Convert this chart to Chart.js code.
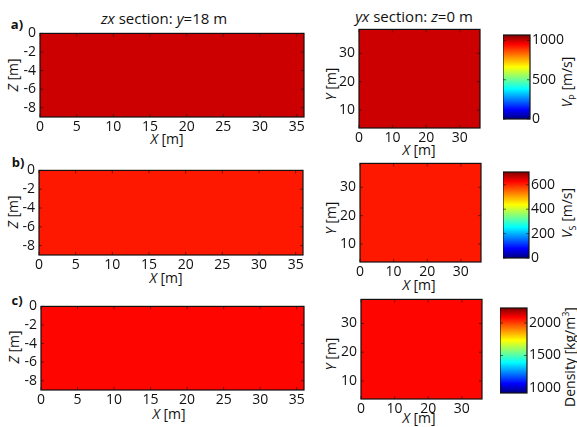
<!DOCTYPE html>
<html>
<head>
<meta charset="utf-8">
<script src="https://cdn.jsdelivr.net/npm/chart.js@4.4.1/dist/chart.umd.min.js"></script>
<style>
  html, body { margin: 0; padding: 0; background: #fff; }
  body { position: relative; width: 577px; height: 427px; overflow: hidden; font-family: "Open Sans", sans-serif; color: #111; }
  canvas { position: absolute; }
  .t { position: absolute; white-space: nowrap; font-size: 14px; line-height: 1; transform: translate(-50%, -50%); }
  .r { transform: translate(-50%, -50%) rotate(-90deg); }
  .b { font-weight: bold; font-size: 13px; }
  sub, sup { font-size: 9px; line-height: 0; }
</style>
</head>
<body>
<div class="t" style="left:164px;top:18px;font-size:15px"><i>zx</i> section: <i>y</i>=18 m</div>
<div class="t" style="left:414px;top:16px;font-size:15px"><i>yx</i> section: <i>z</i>=0 m</div>

<div class="t b" style="left:17px;top:24px">a)</div>
<div class="t b" style="left:18px;top:162px">b)</div>
<div class="t b" style="left:17px;top:300px">c)</div>

<div class="t r" style="left:13px;top:75px"><i>Z</i> [m]</div>
<div class="t r" style="left:13px;top:212px"><i>Z</i> [m]</div>
<div class="t r" style="left:14px;top:347px"><i>Z</i> [m]</div>
<div class="t" style="left:167px;top:139px"><i>X</i> [m]</div>
<div class="t" style="left:166px;top:278px"><i>X</i> [m]</div>
<div class="t" style="left:169px;top:414px"><i>X</i> [m]</div>

<div class="t r" style="left:331px;top:84px"><i>Y</i> [m]</div>
<div class="t r" style="left:331px;top:218px"><i>Y</i> [m]</div>
<div class="t r" style="left:331px;top:354px"><i>Y</i> [m]</div>
<div class="t" style="left:419px;top:150px"><i>X</i> [m]</div>
<div class="t" style="left:419px;top:285px"><i>X</i> [m]</div>
<div class="t" style="left:419px;top:418px"><i>X</i> [m]</div>

<div class="t r" style="left:567px;top:82px"><i>V</i><sub>P</sub> [m/s]</div>
<div class="t r" style="left:567px;top:213px"><i>V</i><sub>S</sub> [m/s]</div>
<div class="t r" style="left:570px;top:357px">Density [kg/m<sup>3</sup>]</div>

<script>
// Model property shown in each row: P-wave velocity, S-wave velocity, density
const properties = ['Vp', 'Vs', 'Density'];
// Uniform value of the model in each row (same value in both sections)
const sectionValues = [990, 600, 2060];
// Colour scale limits and colour-bar ticks per row
const colorRanges = [[0, 1070], [0, 705], [923, 2230]];
const colorTicks = [[0, 500, 1000], [0, 200, 400, 600], [1000, 1500, 2000]];

// Extent of the zx section (x along, z depth) and of the yx section (plan view)
const zxRangeX = [0, 36];
const zxRangeZ = [-9, 0];
const yxRangeX = [0, 36];
const yxRangeY = [3.7, 38.4];

// Axis ticks
const zxTicksX = [0, 5, 10, 15, 20, 25, 30, 35];
const zxTicksZ = [0, -2, -4, -6, -8];
const yxTicksX = [0, 10, 20, 30];
const yxTicksY = [10, 20, 30];

Chart.defaults.font.family = "'Open Sans', sans-serif";
Chart.defaults.font.size = 14;
Chart.defaults.color = '#111';

// Jet colour map
const jetStops = [[0, '#000080'], [0.11, '#0000ff'], [0.36, '#00ffff'], [0.62, '#ffff00'], [0.89, '#ff0000'], [1, '#800000']];
function jet(t) {
  t = Math.min(1, Math.max(0, t));
  const c = v => Math.round(255 * Math.min(1, Math.max(0, v)));
  const r = Math.min(4 * t - 1.5, -4 * t + 4.5);
  const g = Math.min(4 * t - 0.5, -4 * t + 3.5);
  const b = Math.min(4 * t + 0.5, -4 * t + 2.5);
  return `rgb(${c(r)},${c(g)},${c(b)})`;
}

// Black frame with short inward ticks around the plotting area
const framePlugin = {
  id: 'frame',
  afterDatasetsDraw(chart) {
    const { ctx, chartArea: a, scales } = chart;
    ctx.save();
    ctx.strokeStyle = '#111';
    ctx.lineWidth = 1.2;
    ctx.strokeRect(a.left, a.top, a.right - a.left, a.bottom - a.top);
    ctx.lineWidth = 1;
    ctx.strokeStyle = 'rgba(20,20,20,0.6)';
    const tl = 3;
    if (scales.x && scales.x.options.display !== false) {
      scales.x.ticks.forEach(tk => {
        const px = scales.x.getPixelForValue(tk.value);
        ctx.beginPath();
        ctx.moveTo(px, a.bottom); ctx.lineTo(px, a.bottom - tl);
        ctx.moveTo(px, a.top); ctx.lineTo(px, a.top + tl);
        ctx.stroke();
      });
    }
    if (scales.y) {
      scales.y.ticks.forEach(tk => {
        const py = scales.y.getPixelForValue(tk.value);
        ctx.beginPath();
        ctx.moveTo(a.left, py); ctx.lineTo(a.left + tl, py);
        ctx.moveTo(a.right, py); ctx.lineTo(a.right - tl, py);
        ctx.stroke();
      });
    }
    ctx.restore();
  }
};

function place(left, top, w, h) {
  const c = document.createElement('canvas');
  c.width = w; c.height = h;
  c.style.left = left + 'px'; c.style.top = top + 'px';
  c.style.width = w + 'px'; c.style.height = h + 'px';
  document.body.appendChild(c);
  return c;
}

function fixedTicks(list) {
  return s => { s.ticks = list.map(v => ({ value: v })); };
}
const plainNumber = v => String(v);

// One uniform model section, drawn as a filled cell between its lower and upper edges
function sectionChart(box, rx, ry, tx, ty, value, range) {
  const [L, T, R, B] = box;
  const padL = 40, padT = 12, padR = 12, padB = 24;
  const canvas = place(L - padL, T - padT, R - L + padL + padR, B - T + padT + padB);
  const color = jet((value - range[0]) / (range[1] - range[0]));
  new Chart(canvas, {
    type: 'line',
    data: {
      datasets: [
        { data: [{ x: rx[0], y: ry[1] }, { x: rx[1], y: ry[1] }], fill: '+1', backgroundColor: color, borderWidth: 0, pointRadius: 0 },
        { data: [{ x: rx[0], y: ry[0] }, { x: rx[1], y: ry[0] }], fill: false, borderWidth: 0, pointRadius: 0 }
      ]
    },
    options: {
      responsive: false,
      animation: false,
      layout: { padding: { left: 0, top: padT, right: padR, bottom: 0 } },
      plugins: { legend: { display: false }, tooltip: { enabled: false } },
      scales: {
        x: {
          type: 'linear', min: rx[0], max: rx[1],
          afterBuildTicks: fixedTicks(tx),
          afterFit: s => { s.height = padB; },
          grid: { display: false, drawTicks: false },
          border: { display: false },
          ticks: { padding: 2, autoSkip: false, maxRotation: 0, callback: plainNumber }
        },
        y: {
          type: 'linear', min: ry[0], max: ry[1],
          afterBuildTicks: fixedTicks(ty),
          afterFit: s => { s.width = padL; },
          grid: { display: false, drawTicks: false },
          border: { display: false },
          ticks: { padding: 4, autoSkip: false, callback: plainNumber }
        }
      }
    },
    plugins: [framePlugin]
  });
}

// Colour bar: one floating bar spanning the colour range, painted with the jet map
function colorbarChart(box, range, ticks) {
  const [L, T, R, B] = box;
  const padT = 12, padR = 40, padB = 12;
  const canvas = place(L, T - padT, R - L + padR, B - T + padT + padB);
  new Chart(canvas, {
    type: 'bar',
    data: {
      labels: [''],
      datasets: [{
        data: [[range[0], range[1]]],
        barPercentage: 1, categoryPercentage: 1, borderWidth: 0,
        backgroundColor: ctx => {
          const ch = ctx.chart;
          if (!ch.chartArea) return jet(0.5);
          const ys = ch.scales.y;
          const g = ch.ctx.createLinearGradient(0, ys.getPixelForValue(range[0]), 0, ys.getPixelForValue(range[1]));
          jetStops.forEach(([p, c]) => g.addColorStop(p, c));
          return g;
        }
      }]
    },
    options: {
      responsive: false,
      animation: false,
      layout: { padding: { left: 0, top: padT, right: 0, bottom: padB } },
      plugins: { legend: { display: false }, tooltip: { enabled: false } },
      scales: {
        x: { display: false },
        y: {
          position: 'right', min: range[0], max: range[1],
          afterBuildTicks: fixedTicks(ticks),
          afterFit: s => { s.width = padR; },
          grid: { display: false, drawTicks: false },
          border: { display: false },
          ticks: { padding: 2, autoSkip: false, callback: plainNumber }
        }
      }
    },
    plugins: [framePlugin]
  });
}

const zxBoxes = [[40, 33, 304, 117], [39, 170, 303, 255], [41, 306, 304, 390]];
const yxBoxes = [[359, 29, 480, 128], [360, 163, 481, 262], [361, 299, 482, 399]];
const cbBoxes = [[503, 35, 530, 119], [503, 172, 529, 258], [500, 308, 527, 393]];

properties.forEach((p, i) => {
  sectionChart(zxBoxes[i], zxRangeX, zxRangeZ, zxTicksX, zxTicksZ, sectionValues[i], colorRanges[i]);
  sectionChart(yxBoxes[i], yxRangeX, yxRangeY, yxTicksX, yxTicksY, sectionValues[i], colorRanges[i]);
  colorbarChart(cbBoxes[i], colorRanges[i], colorTicks[i]);
});
</script>
</body>
</html>
